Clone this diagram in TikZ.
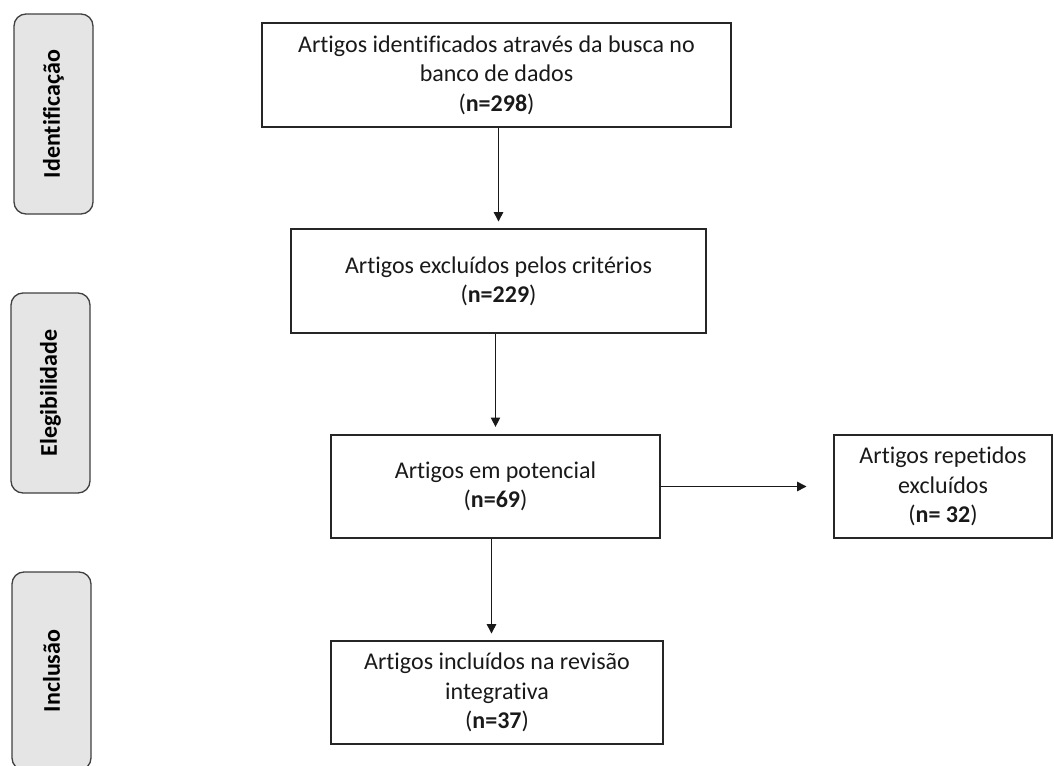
\documentclass[tikz,border=0pt]{standalone}
\usepackage{fontspec}
\setmainfont{Carlito}[Ligatures={NoCommon}]
\usetikzlibrary{arrows.meta,calc}
\begin{document}
\begin{tikzpicture}[x=0.75pt,y=-0.75pt,
  mainbox/.style={draw=black!85,line width=1.2pt,inner sep=0pt,align=center,
    font=\fontsize{18}{22}\selectfont,text=black!90},
  sidebox/.style={draw=black!75,fill=black!10,line width=1pt,rounded corners=9pt,inner sep=0pt},
  sidelabel/.style={rotate=90,font=\fontsize{18}{21}\selectfont\bfseries,text=black},
  arr/.style={line width=1pt,draw=black!90,-{Triangle[width=7pt,length=7pt]}}]
\useasboundingbox (0,0) rectangle (1054,765);
% side phase boxes
\node[sidebox,minimum width=59.25pt,minimum height=150pt] (s1) at (53.5,114) {};
\node[sidelabel] (l1) at (s1.center) {Identificação};
\node[sidebox,minimum width=59.25pt,minimum height=150pt] (s2) at (50.5,393) {};
\node[sidelabel] (l2) at (s2.center) {Elegibilidade};
\node[sidebox,minimum width=59.25pt,minimum height=148.5pt] (s3) at (51.5,671) {};
\node[sidelabel] (l3) at (s3.center) {Inclusão};
% main boxes
\node[mainbox,minimum width=351.75pt,minimum height=78pt] (b1) at (496.5,75)
  {Artigos identificados através da busca no\\banco de dados\\(\textbf{n=298})};
\node[mainbox,minimum width=311.25pt,minimum height=78pt] (b2) at (498.5,281)
  {Artigos excluídos pelos critérios\\(\textbf{n=229})};
\node[mainbox,minimum width=246.75pt,minimum height=77.25pt] (b3) at (495.5,486.5)
  {Artigos em potencial\\(\textbf{n=69})};
\node[mainbox,minimum width=163.5pt,minimum height=77.25pt] (b4) at (943,486.5)
  {Artigos repetidos\\excluídos\\(\textbf{n= 32})};
\node[mainbox,minimum width=249pt,minimum height=77.25pt] (b5) at (497,692.5)
  {Artigos incluídos na revisão\\integrativa\\(\textbf{n=37})};
% connectors
\draw[arr,shorten >=5pt] (b2.north |- b1.south) -- (b2.north);
\draw[arr,shorten >=5.5pt] (b3.north |- b2.south) -- (b3.north);
\draw[arr,shorten >=5pt] ([xshift=-3pt]b3.south) -- ([xshift=-3pt]b3.south |- b5.north);
\draw[arr,shorten >=20pt] (b3.east) -- (b4.west);
\end{tikzpicture}
\end{document}
